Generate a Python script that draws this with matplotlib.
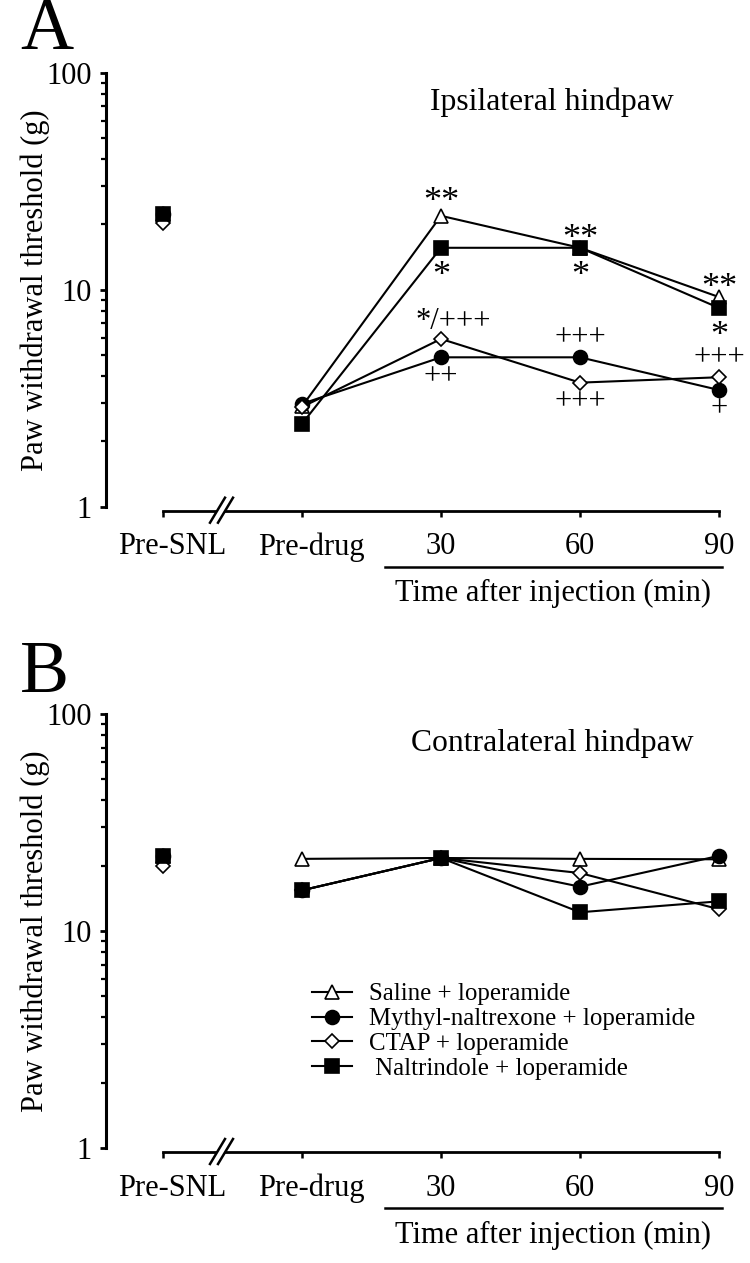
import matplotlib
matplotlib.use("Agg")
import matplotlib.pyplot as plt
from matplotlib.lines import Line2D
from matplotlib.patches import Polygon
from matplotlib.transforms import blended_transform_factory, ScaledTranslation
import matplotlib.ticker as mticker

plt.rcParams['font.family'] = ['Liberation Serif', 'DejaVu Serif']

# ---------------- data ----------------
categories = ['Pre-SNL', 'Pre-drug', '30', '60', '90']
series_names = ['Saline + loperamide', 'Mythyl-naltrexone + loperamide',
                'CTAP + loperamide', ' Naltrindole + loperamide']

ipsi_saline = [22.4, 2.90, 21.9, 15.6, 9.25]
ipsi_mnx = [22.4, 2.98, 4.88, 4.88, 3.45]
ipsi_ctap = [20.3, 2.88, 5.93, 3.73, 3.95]
ipsi_nti = [22.4, 2.41, 15.6, 15.6, 8.24]

contra_saline = [22.1, 21.5, 21.7, 21.5, 21.4]
contra_mnx = [22.1, 15.4, 21.7, 16.0, 22.2]
contra_ctap = [19.9, 15.4, 21.7, 18.5, 12.6]
contra_nti = [22.1, 15.4, 21.7, 12.2, 13.7]

# significance marks: (category index, series index, label, placement)
ipsi_marks = [
    (2, 0, '**', 'above'), (2, 3, '*', 'below'), (2, 2, '*/+++', 'above'), (2, 1, '++', 'below'),
    (3, 3, '**', 'above'), (3, 3, '*', 'below'), (3, 1, '+++', 'above'), (3, 2, '+++', 'below'),
    (4, 0, '**', 'above'), (4, 3, '*', 'below'), (4, 2, '+++', 'above'), (4, 1, '+', 'below'),
]

W, H = 750, 1263
fig = plt.figure(figsize=(W / 100, H / 100), dpi=100)

styles = [
    dict(marker='^', mfc='white', ms=10, zorder=3),
    dict(marker='o', mfc='black', ms=10, zorder=4),
    dict(marker='D', mfc='white', ms=7.2, zorder=5),
    dict(marker='s', mfc='black', ms=9.6, zorder=6),
]

FS = 22


def fx(px):
    return px / W


def fy(py):
    return 1 - py / H


def make_panel(top_px, series, title, letter, letter_base):
    bottom_px = top_px + 434
    ax = fig.add_axes([fx(106), fy(bottom_px), fx(730) - fx(106), 434 / H])
    ax.set_yscale('log')
    ax.set_ylim(1, 100)
    ax.set_xlim(-0.41, 4.079)
    x = list(range(len(categories)))
    handles = []
    for vals, st in zip(series, styles):
        h, = ax.plot(x[1:], vals[1:], color='black', lw=1.5, mec='black', mew=1.2,
                     clip_on=False, **st)
        ax.plot(x[0], vals[0], color='black', lw=0, mec='black', mew=1.2,
                clip_on=False, **st)
        handles.append(h)
    for s in ['top', 'right']:
        ax.spines[s].set_visible(False)
    ax.spines['left'].set_linewidth(2.2)
    ax.spines['bottom'].set_linewidth(2.0)
    ax.spines['bottom'].set_position(('outward', 3))
    ax.spines['bottom'].set_bounds(0, 4)
    ax.set_xticks(x)
    ax.set_xticklabels(categories, fontsize=FS)
    ax.tick_params(axis='x', direction='out', length=4.5, width=1.8, pad=11)
    for lab in ax.get_xticklabels()[:2]:
        lab.set_transform(lab.get_transform() + ScaledTranslation(6.5 / 72, 0, fig.dpi_scale_trans))
    ax.yaxis.set_major_locator(mticker.LogLocator(base=10, numticks=5))
    ax.yaxis.set_minor_locator(mticker.LogLocator(base=10, subs=range(2, 10), numticks=10))
    ax.yaxis.set_minor_formatter(mticker.NullFormatter())
    ax.yaxis.set_major_formatter(mticker.FuncFormatter(lambda v, p: f'{v:g}'))
    ax.tick_params(axis='y', which='major', direction='out', length=4.5, width=2, labelsize=FS, pad=6)
    ax.tick_params(axis='y', which='minor', direction='out', length=3.8, width=1.6)
    ax.set_facecolor('none')

    # y label
    fig.text(fx(35), fy(top_px + 217), 'Paw withdrawal threshold (g)', rotation=90,
             ha='center', va='center', fontsize=FS)
    # title
    ax.text(2.80, 0.9325, title, transform=blended_transform_factory(ax.transData, ax.transAxes),
            ha='center', va='center', fontsize=22.8)
    # panel letter
    fig.text(fx(20), fy(letter_base), letter, ha='left', va='baseline', fontsize=53)

    # underline + axis title
    axis_y = bottom_px + 4
    fig.add_artist(Line2D([fx(385), fx(722)], [fy(axis_y + 56), fy(axis_y + 56)],
                          color='black', lw=1.8))
    fig.text(fx(553), fy(axis_y + 83), 'Time after injection (min)', ha='center', va='center',
             fontsize=FS)

    # axis break //
    y0, y1 = axis_y + 12, axis_y - 13
    fig.add_artist(Polygon([(fx(211), fy(y0)), (fx(225), fy(y1)), (fx(232), fy(y1)), (fx(218), fy(y0))],
                           closed=True, facecolor='white', edgecolor='none', zorder=10))
    for dx in (0, 8):
        fig.add_artist(Line2D([fx(210 + dx), fx(225 + dx)], [fy(y0), fy(y1)], color='black', lw=1.8,
                              zorder=11))
    return ax, handles


axA, hA = make_panel(72.7, [ipsi_saline, ipsi_mnx, ipsi_ctap, ipsi_nti],
                     'Ipsilateral hindpaw', 'A', 49)
axB, hB = make_panel(714, [contra_saline, contra_mnx, contra_ctap, contra_nti],
                     'Contralateral hindpaw', 'B', 692)

# significance annotations in panel A
ipsi_series = [ipsi_saline, ipsi_mnx, ipsi_ctap, ipsi_nti]
for ci, si, lab, where in ipsi_marks:
    v = ipsi_series[si][ci]
    star_only = set(lab) == {'*'}
    fs = 26 if star_only else FS
    fpx = fs / 0.72
    if where == 'above':
        if lab == '**':
            dy = -23 if ci == 2 else -18
        elif lab == '*/+++':
            dy = -18
        else:
            dy = -20
    else:
        dy = 19
    # visual-centre offset (px) -> baseline offset
    base = dy + (0.50 * fpx if star_only else 0.25 * fpx)
    dx = 12 if lab == '*/+++' else 0
    axA.annotate(lab, xy=(ci, v), xytext=(dx * 0.72, -base * 0.72), textcoords='offset points',
                 ha='center', va='baseline', fontsize=fs, annotation_clip=False)

# legend in panel B
leg = axB.legend(hB, series_names, loc='upper left', bbox_to_anchor=(fx(312), fy(983)),
                 bbox_transform=fig.transFigure, frameon=False, fontsize=17.9,
                 handlelength=1.6, handletextpad=0.7, labelspacing=0.1, borderpad=0,
                 borderaxespad=0, numpoints=1)

fig.savefig('out.png', dpi=100)
